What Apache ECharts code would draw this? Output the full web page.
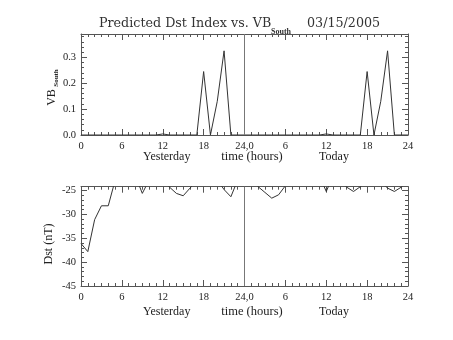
<!DOCTYPE html>
<html><head><meta charset="utf-8">
<script src="https://cdn.jsdelivr.net/npm/echarts@6/dist/echarts.min.js"></script>
<style>html,body{margin:0;padding:0;background:#fff}#c{width:453px;height:340px}</style>
</head><body><div id="c"></div>
<script>
// Hourly values, hour 0 (yesterday 00h) to hour 48 (today 24h)
var vbSouth = [0,0,0,0,0,0,0,0,0,0,0,0,0.004,0,0,0,0,0,0.245,0,0.13,0.325,0,0,0,
               0,0,0,0,0,0,0,0,0,0,0,0.004,0,0,0,0,0,0.245,0,0.13,0.325,0,0,0];
var dst = [-36.1,-37.8,-31.1,-28.2,-28.2,-22.9,-22,-22,-22,-25.6,-22.8,-22,-22.5,-24.3,-25.6,-26.1,-24.5,-23,-22,-22,-22.8,-24.8,-26.3,-22.8,-22,
           -22.5,-24.2,-25.4,-26.6,-25.9,-24.0,-22,-22,-22,-22,-21.9,-25.2,-21.9,-22.5,-24.3,-25.2,-24.2,-23,-22.5,-23,-24.5,-25.2,-24.3,-23];
var xTickLabels = {0:'0',6:'6',12:'12',18:'18',24:'24,0',30:'6',36:'12',42:'18',48:'24'};
var dayLabels = ['Yesterday','time (hours)','Today'];
var titleText = 'Predicted Dst Index vs. VB';
var titleSub = 'South';
var dateText = '03/15/2005';

var FONT = 'Liberation Serif';
var TFONT = 'DejaVu Serif';
var AX = '#555', LN = '#333';
function pairs(arr){ return arr.map(function(v,i){ return [i, v]; }); }

function xAxisDef(grid, pos, labels){
  return {
    type:'value', gridIndex:grid, position:pos, min:0, max:48, interval:6,
    axisLine:{show:true, onZero:false, lineStyle:{color:AX, width:1}},
    axisTick:{show:true, inside:true, length:6, lineStyle:{color:AX}},
    minorTick:{show:true, splitNumber:6, length:3, lineStyle:{color:AX}},
    splitLine:{show:false},
    axisLabel:{show:labels, margin:6, color:'#222', fontFamily:FONT, fontSize:10.5,
      formatter:function(v){ return xTickLabels[v] !== undefined ? xTickLabels[v] : ''; }}
  };
}
function yAxisDef(grid, pos, labels, min, max, interval, fmt){
  return {
    type:'value', gridIndex:grid, position:pos, min:min, max:max, interval:interval,
    axisLine:{show:true, onZero:false, lineStyle:{color:AX, width:1}},
    axisTick:{show:true, inside:true, length:6, lineStyle:{color:AX}},
    minorTick:{show:true, splitNumber:5, length:3, lineStyle:{color:AX}},
    splitLine:{show:false},
    axisLabel:{show:labels, margin:5, color:'#222', fontFamily:FONT, fontSize:10.5, formatter:fmt, showMaxLabel:false}
  };
}
var fmtTop = function(v){ var r = Math.round(v*10); return Math.abs(v*10-r)<1e-6 ? (r/10).toFixed(1) : ''; };
var fmtBot = function(v){ return (Math.abs(v%5)<1e-6) ? String(v) : ''; };

var vline = {silent:true, symbol:'none', label:{show:false}, lineStyle:{color:'#777', type:'solid', width:1}, data:[{xAxis:24}]};

var chart = echarts.init(document.getElementById('c'), null, {renderer:'canvas'});
chart.setOption({
  backgroundColor:'#fff',
  animation:false,
  grid:[
    {left:81, right:45, top:34, height:101},
    {left:81, right:45, top:186.7, height:99.3}
  ],
  xAxis:[ xAxisDef(0,'bottom',true), xAxisDef(0,'top',false), xAxisDef(1,'bottom',true), xAxisDef(1,'top',false) ],
  yAxis:[ yAxisDef(0,'left',true,0,0.39,0.1,fmtTop), yAxisDef(0,'right',false,0,0.39,0.1,fmtTop),
          yAxisDef(1,'left',true,-45,-24.2,5,fmtBot), yAxisDef(1,'right',false,-45,-24.2,5,fmtBot) ],
  series:[
    {type:'line', xAxisIndex:0, yAxisIndex:0, data:pairs(vbSouth), showSymbol:false, clip:true,
     lineStyle:{color:LN, width:1}, markLine:vline},
    {type:'line', xAxisIndex:2, yAxisIndex:2, data:pairs(dst), showSymbol:false, clip:true,
     lineStyle:{color:LN, width:1}, markLine:vline}
  ],
  graphic:[
    {type:'text', left:99, top:17, style:{text:titleText, font:'12.7px '+TFONT, fill:'#333'}},
    {type:'text', left:271, top:28, style:{text:titleSub, font:'bold 8px '+FONT, fill:'#333'}},
    {type:'text', left:307, top:17, style:{text:dateText, font:'12.7px '+TFONT, fill:'#333'}},
    {type:'text', x:166.7, y:156.7, style:{text:dayLabels[0], font:'12px '+FONT, fill:'#222', align:'center', verticalAlign:'middle'}},
    {type:'text', x:252, y:156.7, style:{text:dayLabels[1], font:'12.5px '+FONT, fill:'#222', align:'center', verticalAlign:'middle'}},
    {type:'text', x:334, y:156.7, style:{text:dayLabels[2], font:'12px '+FONT, fill:'#222', align:'center', verticalAlign:'middle'}},
    {type:'text', x:166.7, y:311.7, style:{text:dayLabels[0], font:'12px '+FONT, fill:'#222', align:'center', verticalAlign:'middle'}},
    {type:'text', x:252, y:311.7, style:{text:dayLabels[1], font:'12.5px '+FONT, fill:'#222', align:'center', verticalAlign:'middle'}},
    {type:'text', x:334, y:311.7, style:{text:dayLabels[2], font:'12px '+FONT, fill:'#222', align:'center', verticalAlign:'middle'}},
    {type:'text', x:52, y:97.5, rotation:Math.PI/2, style:{text:'VB', font:'12px '+FONT, fill:'#222', align:'center', verticalAlign:'middle'}},
    {type:'text', x:56, y:78, rotation:Math.PI/2, style:{text:'South', font:'bold 7px '+FONT, fill:'#222', align:'center', verticalAlign:'middle'}},
    {type:'text', x:48.5, y:244, rotation:Math.PI/2, style:{text:'Dst (nT)', font:'12px '+FONT, fill:'#222', align:'center', verticalAlign:'middle'}}
  ]
});
</script>
</body></html>
